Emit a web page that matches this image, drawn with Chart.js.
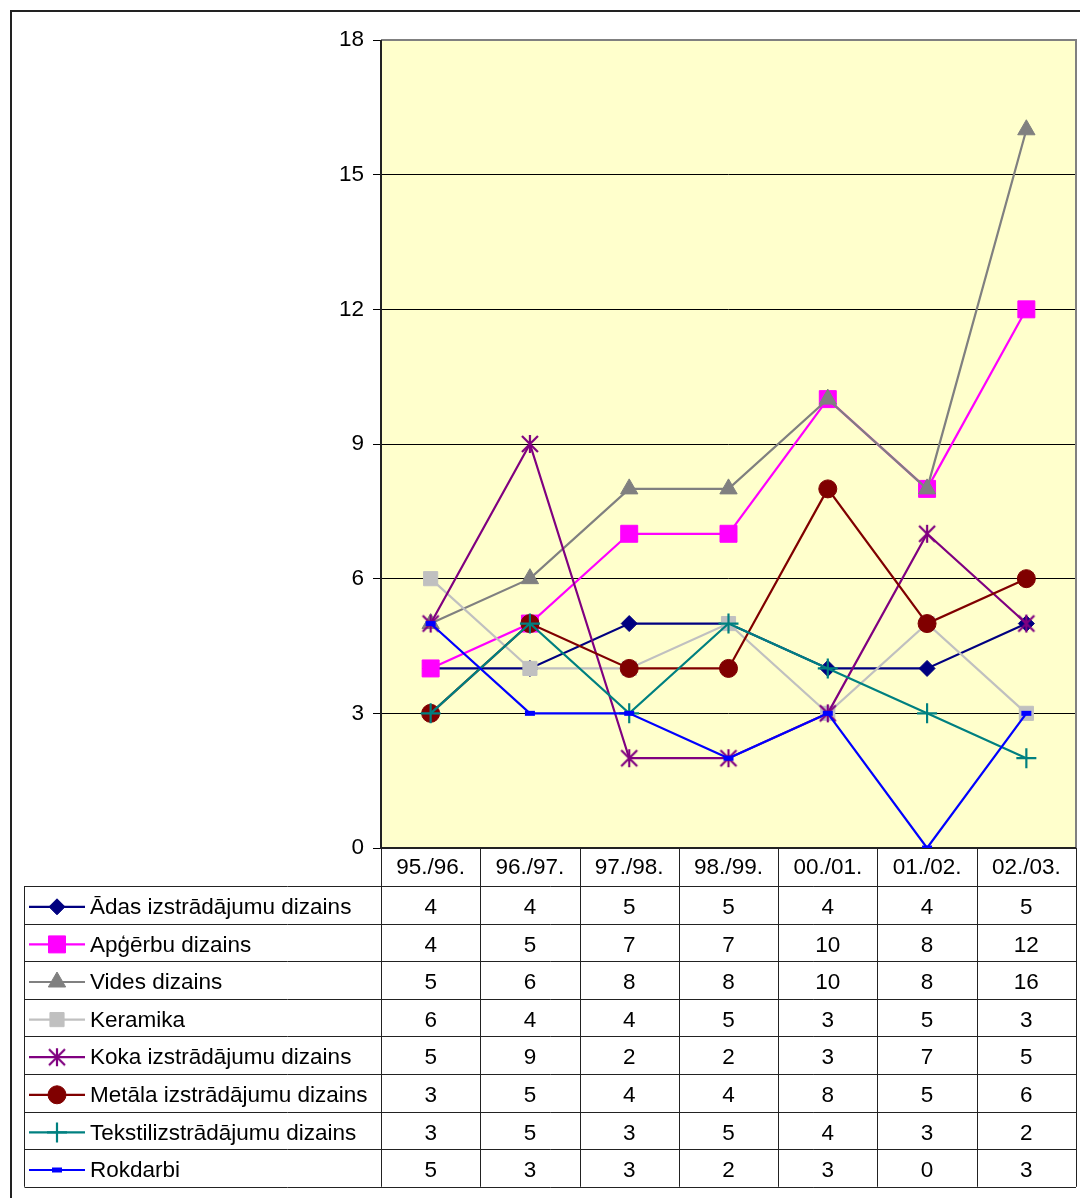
<!DOCTYPE html>
<html>
<head>
<meta charset="utf-8">
<script src="https://cdn.jsdelivr.net/npm/chart.js@4"></script>
<style>
	body { margin: 0; background: #fff; }
	canvas { display: block; }
</style>
</head>
<body>
<canvas id="studentsChart" width="1080" height="1198"></canvas>
<script>
const years = ['95./96.', '96./97.', '97./98.', '98./99.', '00./01.', '01./02.', '02./03.'];
const seriesNames = [
	'Ādas izstrādājumu dizains',
	'Apģērbu dizains',
	'Vides dizains',
	'Keramika',
	'Koka izstrādājumu dizains',
	'Metāla izstrādājumu dizains',
	'Tekstilizstrādājumu dizains',
	'Rokdarbi'
];
const adas = [4, 4, 5, 5, 4, 4, 5];
const apgerbu = [4, 5, 7, 7, 10, 8, 12];
const vides = [5, 6, 8, 8, 10, 8, 16];
const keramika = [6, 4, 4, 5, 3, 5, 3];
const koka = [5, 9, 2, 2, 3, 7, 5];
const metala = [3, 5, 4, 4, 8, 5, 6];
const tekstil = [3, 5, 3, 5, 4, 3, 2];
const rokdarbi = [5, 3, 3, 2, 3, 0, 3];
const yTicks = [0, 3, 6, 9, 12, 15, 18];

const FONT = '"Liberation Sans", Arial, sans-serif';
const FONT_SIZE = 22.5;

// excel style asterisk marker: X with a vertical bar
const asterisk = (() => {
	const c = document.createElement('canvas');
	c.width = 20; c.height = 20;
	const g = c.getContext('2d');
	g.strokeStyle = '#800080';
	g.lineWidth = 2.2;
	g.beginPath();
	g.moveTo(2, 2); g.lineTo(18, 18);
	g.moveTo(18, 2); g.lineTo(2, 18);
	g.moveTo(10, 1); g.lineTo(10, 19);
	g.stroke();
	return c;
})();

const styles = [
	{color: '#000080', pointStyle: 'rectRot', radius: 8},
	{color: '#FF00FF', pointStyle: 'rect', radius: 12},
	{color: '#808080', pointStyle: 'triangle', radius: 10},
	{color: '#C0C0C0', pointStyle: 'rect', radius: 10},
	{color: '#800080', pointStyle: asterisk, radius: 10},
	{color: '#800000', pointStyle: 'circle', radius: 9},
	{color: '#008080', pointStyle: 'cross', radius: 10, pointBorderWidth: 2.2},
	{color: '#0000FF', pointStyle: 'line', radius: 5, pointBorderWidth: 5}
];
const values = [adas, apgerbu, vides, keramika, koka, metala, tekstil, rokdarbi];

const datasets = values.map((d, i) => ({
	label: seriesNames[i],
	data: d,
	borderColor: styles[i].color,
	backgroundColor: styles[i].color,
	pointBackgroundColor: styles[i].color,
	pointBorderColor: styles[i].color,
	pointBorderWidth: styles[i].pointBorderWidth || 1,
	pointStyle: styles[i].pointStyle,
	pointRadius: styles[i].radius,
	borderWidth: 2.2,
	tension: 0,
	order: values.length - i
}));

const HEADER_H = 38;
const ROW_H = 37.6;
const TABLE_LEFT = 24;

const frame = {
	id: 'frame',
	beforeDraw(chart) {
		const {ctx, chartArea: a} = chart;
		ctx.save();
		ctx.fillStyle = '#fff';
		ctx.fillRect(0, 0, chart.width, chart.height);
		ctx.strokeStyle = '#222';
		ctx.lineWidth = 2;
		ctx.beginPath();
		ctx.moveTo(11, chart.height);
		ctx.lineTo(11, 11);
		ctx.lineTo(chart.width, 11);
		ctx.stroke();
		ctx.fillStyle = '#FFFFCC';
		ctx.fillRect(a.left, a.top, a.right - a.left, a.bottom - a.top);
		ctx.restore();
	},
	beforeDatasetsDraw(chart) {
		const {ctx, chartArea: a} = chart;
		ctx.save();
		ctx.lineWidth = 2;
		ctx.strokeStyle = '#808080';
		ctx.beginPath();
		ctx.moveTo(a.left, a.top);
		ctx.lineTo(a.right, a.top);
		ctx.lineTo(a.right, a.bottom);
		ctx.stroke();
		ctx.strokeStyle = '#222';
		ctx.beginPath();
		ctx.moveTo(a.left, a.top);
		ctx.lineTo(a.left, a.bottom);
		ctx.lineTo(a.right, a.bottom);
		ctx.stroke();
		ctx.restore();
	},
	afterDraw(chart) {
		const {ctx, chartArea: a} = chart;
		const xs = chart.scales.x;
		const colW = (a.right - a.left) / years.length;
		const rowsTop = a.bottom + HEADER_H;
		const bottom = rowsTop + ROW_H * seriesNames.length;
		ctx.save();
		ctx.fillStyle = '#fff';
		ctx.fillRect(a.left, a.bottom + 1, a.right - a.left + 1, HEADER_H);
		ctx.fillRect(TABLE_LEFT, rowsTop, a.right - TABLE_LEFT + 1, bottom - rowsTop);
		ctx.strokeStyle = '#222';
		ctx.lineWidth = 1;
		ctx.beginPath();
		for (let i = 0; i <= years.length; i++) {
			const x = Math.round(a.left + i * colW) + 0.5;
			ctx.moveTo(x, a.bottom);
			ctx.lineTo(x, bottom);
		}
		for (let r = 0; r <= seriesNames.length; r++) {
			const y = Math.round(rowsTop + r * ROW_H) + 0.5;
			ctx.moveTo(TABLE_LEFT + 0.5, y);
			ctx.lineTo(a.right, y);
		}
		ctx.moveTo(TABLE_LEFT + 0.5, rowsTop);
		ctx.lineTo(TABLE_LEFT + 0.5, bottom);
		ctx.stroke();

		ctx.fillStyle = '#000';
		ctx.font = FONT_SIZE + 'px ' + FONT;
		ctx.textAlign = 'center';
		ctx.textBaseline = 'middle';
		years.forEach((y, i) => ctx.fillText(y, xs.getPixelForValue(i), a.bottom + HEADER_H / 2 + 1));

		values.forEach((d, r) => {
			const cy = rowsTop + (r + 0.5) * ROW_H;
			ctx.textAlign = 'center';
			ctx.fillStyle = '#000';
			d.forEach((v, i) => ctx.fillText(String(v), xs.getPixelForValue(i), cy + 3));
			// legend key
			const st = styles[r];
			ctx.strokeStyle = st.color;
			ctx.lineWidth = 2.2;
			ctx.beginPath();
			ctx.moveTo(TABLE_LEFT + 5, cy + 2);
			ctx.lineTo(TABLE_LEFT + 61, cy + 2);
			ctx.stroke();
			ctx.fillStyle = st.color;
			ctx.lineWidth = st.pointBorderWidth || 1;
			Chart.helpers.drawPoint(ctx, {
				pointStyle: st.pointStyle,
				radius: st.radius,
				rotation: 0,
				borderWidth: st.pointBorderWidth || 1
			}, TABLE_LEFT + 33, cy + 2);
			ctx.fillStyle = '#000';
			ctx.textAlign = 'left';
			ctx.fillText(seriesNames[r], TABLE_LEFT + 66, cy + 3);
		});
		ctx.restore();
	}
};

new Chart(document.getElementById('studentsChart'), {
	type: 'line',
	data: {labels: years, datasets},
	options: {
		responsive: false,
		animation: false,
		devicePixelRatio: 1,
		layout: {autoPadding: false, padding: {left: 0, top: 40, right: 4, bottom: 350}},
		plugins: {legend: {display: false}, tooltip: {enabled: false}},
		scales: {
			x: {type: 'category', offset: true, display: false},
			y: {
				min: 0,
				max: 18,
				afterFit: (s) => { s.width = 381; },
				afterBuildTicks: (s) => { s.ticks = yTicks.map(v => ({value: v})); },
				ticks: {color: '#000', padding: 9, font: {size: FONT_SIZE, family: FONT}},
				grid: {color: '#000', lineWidth: 1, tickLength: 8},
				border: {display: false}
			}
		}
	},
	plugins: [frame]
});
</script>
</body>
</html>
